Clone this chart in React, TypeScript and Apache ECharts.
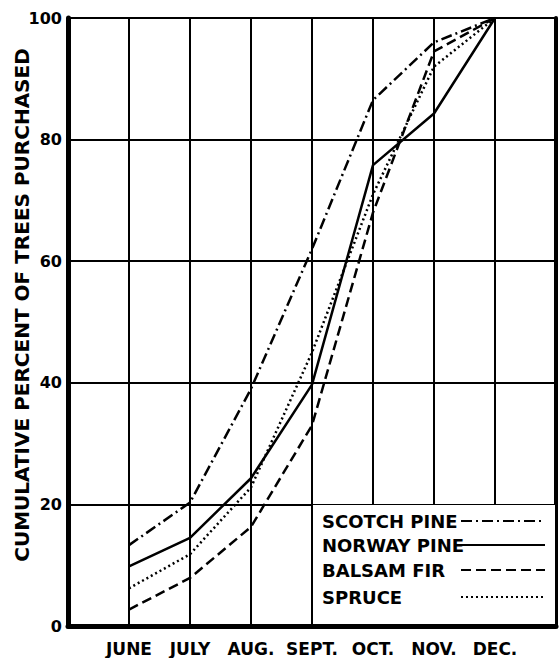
import React, { useEffect, useRef } from "react";
import * as echarts from "echarts";

const months = ["JUNE", "JULY", "AUG.", "SEPT.", "OCT.", "NOV.", "DEC."];
const yTicks = [0, 20, 40, 60, 80, 100];
const scotchPine = [13.3, 20.3, 39, 62, 86.5, 96, 100];
const norwayPine = [9.8, 14.5, 24.3, 39.7, 75.8, 84.3, 100];
const balsamFir = [2.7, 7.9, 16.3, 33, 68, 94.5, 100];
const spruce = [6.2, 11.8, 22.8, 45, 71, 92, 100];
const yTitle = "CUMULATIVE PERCENT OF TREES PURCHASED";

const seriesDefs = [
  { name: "SCOTCH PINE", data: scotchPine, type: [11, 4, 2, 4] as any },
  { name: "NORWAY PINE", data: norwayPine, type: "solid" as any },
  { name: "BALSAM FIR", data: balsamFir, type: [10, 5] as any },
  { name: "SPRUCE", data: spruce, type: [2, 3] as any },
];

const FONT = "'DejaVu Sans', sans-serif";

export default function App() {
  const ref = useRef<HTMLDivElement>(null);
  useEffect(() => {
    if (!ref.current) return;
    const chart = echarts.init(ref.current, null, { renderer: "svg" });
    const legendX = 322;
    const legendY = [521, 545, 570, 597];
    const legendGraphics: any[] = [];
    seriesDefs.forEach((s, i) => {
      legendGraphics.push({
        type: "text",
        z: 101,
        x: legendX,
        y: legendY[i],
        style: {
          text: s.name,
          fill: "#000",
          font: `bold 18px ${FONT}`,
          verticalAlign: "middle",
          align: "left",
        },
      });
      legendGraphics.push({
        type: "line",
        z: 101,
        shape: { x1: 461, y1: legendY[i], x2: 545, y2: legendY[i] },
        style: { stroke: "#000", lineWidth: 2.2, lineDash: s.type === "solid" ? null : s.type },
      });
    });
    chart.setOption({
      animation: false,
      backgroundColor: "#fff",
      grid: {
        left: 68,
        right: 4,
        top: 18,
        bottom: 32,
        show: true,
        borderColor: "#000",
        borderWidth: 2,
      },
      xAxis: {
        type: "value",
        min: 0,
        max: 8,
        interval: 1,
        axisLine: { show: true, onZero: false, lineStyle: { color: "#000", width: 5 } },
        axisTick: { show: false },
        splitLine: { show: true, lineStyle: { color: "#000", width: 2 } },
        axisLabel: {
          color: "#000",
          fontFamily: FONT,
          fontWeight: "bold",
          fontSize: 17,
          margin: 14,
          formatter: (v: number) => (v >= 1 && v <= 7 ? months[v - 1] : ""),
        },
      },
      yAxis: [
        {
          type: "value",
          min: 0,
          max: 100,
          interval: 20,
          axisLine: { show: true, lineStyle: { color: "#000", width: 5 } },
          axisTick: { show: false },
          splitLine: { show: true, lineStyle: { color: "#000", width: 2 } },
          axisLabel: {
            color: "#000",
            fontFamily: FONT,
            fontWeight: "bold",
            fontSize: 16,
            margin: 6,
            formatter: (v: number) => (yTicks.includes(v) ? String(v) : ""),
          },
        },
        {
          type: "value",
          position: "right",
          min: 0,
          max: 100,
          interval: 20,
          axisLine: { show: true, lineStyle: { color: "#000", width: 4 } },
          axisTick: { show: false },
          axisLabel: { show: false },
          splitLine: { show: false },
        },
      ],
      series: seriesDefs.map((s) => ({
        name: s.name,
        type: "line",
        symbol: "none",
        data: s.data.map((v, i) => [i + 1, v]),
        lineStyle: { color: "#000", width: 2.5, type: s.type },
        z: 3,
      })),
      graphic: [
        {
          type: "rect",
          z: 100,
          shape: { x: 313, y: 505, width: 242, height: 119 },
          style: { fill: "#fff" },
        },
        {
          type: "text",
          z: 101,
          x: 22,
          y: 305,
          rotation: Math.PI / 2,
          style: {
            text: yTitle,
            fill: "#000",
            font: `bold 20px ${FONT}`,
            align: "center",
            verticalAlign: "middle",
          },
        },
        ...legendGraphics,
      ],
    });
    return () => chart.dispose();
  }, []);
  return <div ref={ref} style={{ width: 560, height: 658, position: "absolute", left: 0, top: 0 }} />;
}
